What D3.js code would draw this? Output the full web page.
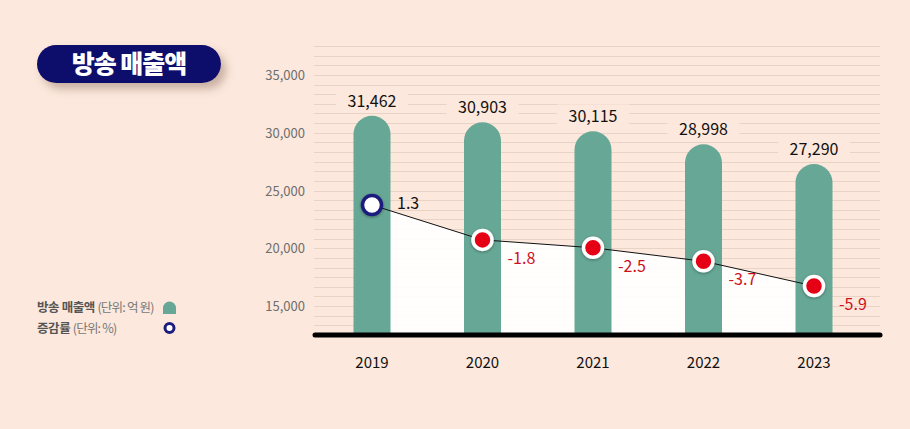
<!DOCTYPE html>
<html>
<head>
<meta charset="utf-8">
<script src="https://cdn.jsdelivr.net/npm/d3@7"></script>
<style>
  html, body { margin:0; padding:0; background:#fce8dc; }
  svg { display:block; font-family:"Noto Sans CJK KR","Noto Sans",sans-serif; }
</style>
</head>
<body>
<div id="chart"></div>
<script>
var width = 910, height = 429;

// data
var years = ["2019", "2020", "2021", "2022", "2023"];
var sales = [31462, 30903, 30115, 28998, 27290];
var rates = [1.3, -1.8, -2.5, -3.7, -5.9];
var yTicks = [15000, 20000, 25000, 30000, 35000];

var svg = d3.select("#chart")
    .append("svg")
        .attr("width", width)
        .attr("height", height);

var defs = svg.append("defs");
defs.append("filter").attr("id", "pillShadow")
    .attr("x", "-20%").attr("y", "-40%").attr("width", "150%").attr("height", "200%")
  .append("feDropShadow")
    .attr("dx", 5).attr("dy", 6).attr("stdDeviation", 4)
    .attr("flood-color", "#8a6a5a").attr("flood-opacity", 0.45);
defs.append("filter").attr("id", "dotShadow")
    .attr("x", "-50%").attr("y", "-50%").attr("width", "200%").attr("height", "200%")
  .append("feDropShadow")
    .attr("dx", 0).attr("dy", 1).attr("stdDeviation", 1.5)
    .attr("flood-color", "#000").attr("flood-opacity", 0.35);

var bg = "#fce8dc";
svg.append("rect").attr("width", width).attr("height", height).attr("fill", bg);

// scales
var x = d3.scalePoint().domain(years).range([372, 814]);
var y = d3.scaleLinear().domain([12500, 37500]).range([335, 46]);
var y2 = d3.scaleLinear().domain([-5.9, 1.3]).range([286, 205]);

var gridLeft = 314, gridRight = 880;

// grid lines
var gridVals = d3.range(0, 31).map(function(i){ return 12500 + i * 5000 / 6; })
    .filter(function(v){ return v > 12600 && v <= 37600; });
svg.append("g").selectAll("line")
    .data(gridVals)
    .join("line")
    .attr("x1", gridLeft).attr("x2", gridRight)
    .attr("y1", function(d){ return Math.round(y(d)) + 0.5; })
    .attr("y2", function(d){ return Math.round(y(d)) + 0.5; })
    .attr("stroke", "#e9d3c4")
    .attr("stroke-width", 1);

// y axis tick labels
svg.append("g").selectAll("text")
    .data(yTicks)
    .join("text")
    .attr("x", 305)
    .attr("y", function(d){ return y(d) + 5; })
    .attr("text-anchor", "end")
    .attr("font-size", 13)
    .attr("fill", "#6e6e6e")
    .text(function(d){ return d3.format(",")(d); });

// white area under the rate line
var pts = years.map(function(d, i){ return [x(d), y2(rates[i])]; });
var area = d3.area()
    .x(function(d){ return d[0]; })
    .y0(y(12500))
    .y1(function(d){ return d[1]; });
svg.append("path")
    .datum(pts)
    .attr("d", area)
    .attr("fill", "#ffffff")
    .attr("fill-opacity", 0.93);

// bars with rounded tops
var barW = 37;
svg.append("g").selectAll("path")
    .data(years)
    .join("path")
    .attr("fill", "#67a795")
    .attr("d", function(d, i){
        var cx = x(d), top = y(sales[i]), r = barW / 2, bottom = y(12500);
        return "M" + (cx - r) + "," + bottom +
               "V" + (top + r) +
               "A" + r + "," + r + " 0 0 1 " + (cx + r) + "," + (top + r) +
               "V" + bottom + "Z";
    });

// value labels with background
var vl = svg.append("g").selectAll("g")
    .data(years)
    .join("g")
    .attr("transform", function(d, i){ return "translate(" + x(d) + "," + (y(sales[i]) - 9) + ")"; });
vl.append("rect")
    .attr("x", -36).attr("y", -18).attr("width", 72).attr("height", 24)
    .attr("fill", bg);
vl.append("text")
    .attr("text-anchor", "middle")
    .attr("font-size", 16)
    .attr("fill", "#111")
    .text(function(d, i){ return d3.format(",")(sales[i]); });

// rate line
svg.append("path")
    .datum(pts)
    .attr("d", d3.line())
    .attr("fill", "none")
    .attr("stroke", "#111")
    .attr("stroke-width", 1);

// rate dots
svg.append("g").selectAll("circle")
    .data(pts)
    .join("circle")
    .attr("cx", function(d){ return d[0]; })
    .attr("cy", function(d){ return d[1]; })
    .attr("r", 9.5)
    .attr("fill", function(d, i){ return rates[i] >= 0 ? "#ffffff" : "#e50013"; })
    .attr("stroke", function(d, i){ return rates[i] >= 0 ? "#1c1c7e" : "#ffffff"; })
    .attr("stroke-width", 3.5)
    .attr("filter", "url(#dotShadow)");

// rate labels
svg.append("g").selectAll("text")
    .data(pts)
    .join("text")
    .attr("x", function(d){ return d[0] + 25; })
    .attr("y", function(d, i){ return rates[i] >= 0 ? d[1] + 4 : d[1] + 24; })
    .attr("font-size", 16)
    .attr("fill", function(d, i){ return rates[i] >= 0 ? "#111" : "#d0101c"; })
    .text(function(d, i){ return rates[i]; });

// baseline
svg.append("line")
    .attr("x1", 315).attr("x2", 880)
    .attr("y1", 335).attr("y2", 335)
    .attr("stroke", "#000")
    .attr("stroke-width", 5)
    .attr("stroke-linecap", "round");

// x labels
svg.append("g").selectAll("text")
    .data(years)
    .join("text")
    .attr("x", function(d){ return x(d); })
    .attr("y", 368)
    .attr("text-anchor", "middle")
    .attr("font-size", 15)
    .attr("fill", "#111")
    .text(function(d){ return d; });

// title pill
svg.append("rect")
    .attr("x", 37).attr("y", 45).attr("width", 184).attr("height", 38)
    .attr("rx", 19)
    .attr("fill", "#0e0e6c")
    .attr("filter", "url(#pillShadow)");
svg.append("text")
    .attr("x", 129).attr("y", 73)
    .attr("text-anchor", "middle")
    .attr("font-size", 25)
    .attr("font-weight", 900)
    .attr("fill", "#ffffff")
    .attr("letter-spacing", -1)
    .text("방송 매출액");

// legend
var leg1 = svg.append("text").attr("x", 37).attr("y", 312).attr("font-size", 12.5).attr("fill", "#555");
leg1.append("tspan").attr("font-weight", 700).attr("letter-spacing", -0.4).text("방송 매출액 ");
leg1.append("tspan").attr("fill", "#777").attr("letter-spacing", -0.8).text("(단위: 억 원)");
var leg2 = svg.append("text").attr("x", 37).attr("y", 333).attr("font-size", 12.5).attr("fill", "#555");
leg2.append("tspan").attr("font-weight", 700).attr("letter-spacing", -0.4).text("증감률 ");
leg2.append("tspan").attr("fill", "#777").attr("letter-spacing", -0.8).text("(단위: %)");

svg.append("path")
    .attr("fill", "#67a795")
    .attr("d", "M163,314V308A6.5,6.5 0 0 1 176,308V314Z");
svg.append("circle")
    .attr("cx", 169.5).attr("cy", 328).attr("r", 4.5)
    .attr("fill", "#ffffff")
    .attr("stroke", "#1c1c7e")
    .attr("stroke-width", 3);
</script>
</body>
</html>
